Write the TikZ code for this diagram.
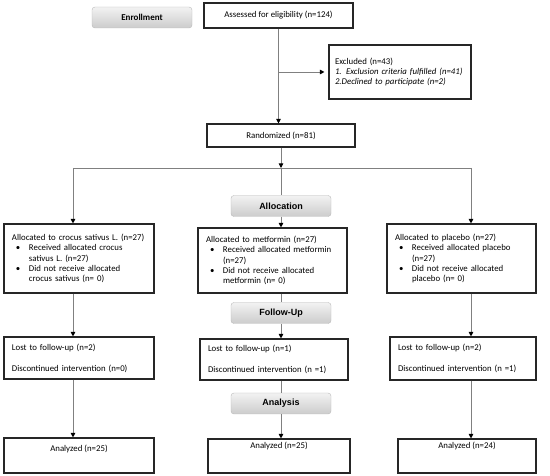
\documentclass[tikz,border=0pt]{standalone}
\usepackage{fontspec}
\setmainfont{Carlito}
\newfontfamily\stagefont{Liberation Sans}
\usetikzlibrary{arrows.meta}

\tikzstyle{stage} = [draw=gray!55, rounded corners=3pt, top color=gray!10,
    bottom color=gray!40, minimum width=100pt, minimum height=21pt,
    inner sep=0pt, font=\stagefont\fontsize{9}{10}\selectfont\bfseries]
\tikzstyle{flowbox} = [draw=black!85, line width=1.1pt, rectangle,
    inner sep=0pt, font=\fontsize{8.8}{10.4}\selectfont]
\tikzstyle{armbox} = [flowbox, minimum width=150pt, text width=134pt,
    inner xsep=8pt, align=left]
\tikzstyle{connector} = [draw=gray, line width=0.9pt]
\tikzstyle{flowarrow} = [connector,
    -{Triangle[length=4.5pt,width=4.5pt,color=black]}]

\newcommand{\armitem}[2]{\par\hangindent=17pt\hangafter=1\noindent
    \makebox[17pt][l]{\hspace{4pt}\textbullet}#1\newline #2\par}

\begin{document}
\begin{tikzpicture}[x=1pt,y=-1pt]
\useasboundingbox (0,0) rectangle (550,476);

% enrollment
\node[stage, font=\fontsize{9}{10}\selectfont\bfseries] (enroll) at (142,17.5) {Enrollment};
\node[flowbox, minimum width=149pt, minimum height=25pt] (assess) at (278.5,15.5)
    {Assessed for eligibility (n=124)};
\node[flowbox, minimum width=142pt, minimum height=54pt, text width=130pt,
    inner xsep=6pt, align=left] (excl) at (400,72)
    {Excluded (n=43)\\
    \textit{1. Exclusion criteria fulfilled (n=41)}\\
    \textit{2.Declined to participate (n=2)}};
\node[flowbox, minimum width=148pt, minimum height=23pt] (rand) at (281,135.5)
    {Randomized (n=81)};

% allocation
\node[stage] (alloc) at (281,206) {Allocation};
\node[armbox, minimum height=69pt] (armA) at (79,258.5)
    {Allocated to crocus sativus L. (n=27)
    \armitem{Received allocated crocus}{sativus L. (n=27)}
    \armitem{Did not receive allocated}{crocus sativus (n= 0)}};
\node[armbox, minimum width=149pt, text width=133pt, minimum height=65pt] (armB) at (272.5,260.5)
    {Allocated to metformin (n=27)
    \armitem{Received allocated metformin}{(n=27)}
    \armitem{Did not receive allocated}{metformin (n= 0)}};
\node[armbox, minimum width=149pt, text width=133pt, minimum height=69pt] (armC) at (461.5,258.5)
    {Allocated to placebo (n=27)
    \armitem{Received allocated placebo}{(n=27)}
    \armitem{Did not receive allocated}{placebo (n= 0)}};

% follow-up
\node[stage] (followup) at (281,313) {Follow-Up};
\node[armbox, minimum height=42pt] (lostA) at (79,358)
    {Lost to follow-up (n=2)\\[10.5pt]Discontinued intervention (n=0)};
\node[armbox, minimum width=148pt, text width=132pt, minimum height=41pt] (lostB) at (274,359.5)
    {Lost to follow-up (n=1)\\[10.5pt]Discontinued intervention (n =1)};
\node[armbox, minimum width=146pt, text width=130pt, minimum height=43pt] (lostC) at (463,358.5)
    {Lost to follow-up (n=2)\\[10.5pt]Discontinued intervention (n =1)};

% analysis
\node[stage] (analysis) at (281,403.5) {Analysis};
\node[flowbox, minimum width=150pt, minimum height=35pt, text height=6pt, text depth=14pt]
    (doneA) at (79,455.5) {Analyzed (n=25)};
\node[flowbox, minimum width=142pt, minimum height=34pt, text height=6pt, text depth=20pt]
    (doneB) at (279,456) {Analyzed (n=25)};
\node[flowbox, minimum width=138pt, minimum height=34pt, text height=6pt, text depth=20pt]
    (doneC) at (467,456) {Analyzed (n=24)};

% connectors
\coordinate (split) at (281,168);
\coordinate (splitA) at (73,168);
\coordinate (splitC) at (471,168);
\coordinate (exclsplit) at (assess.south |- excl.west);
\draw[flowarrow] (assess.south) -- (assess.south |- rand.north);
\draw[flowarrow, shorten >=4pt] (exclsplit) -- (excl.west);
\draw[flowarrow] (rand) -- (split);
\draw[connector] (splitA) -- (splitC);
\draw[connector] (split) -- (alloc);
\draw[flowarrow] (alloc) -- (alloc |- armB.north);
\draw[connector] (alloc |- armB.south) -- (followup);
\draw[flowarrow] (followup) -- (followup |- lostB.north);
\draw[connector] (followup |- lostB.south) -- (analysis);
\draw[flowarrow] (analysis) -- (analysis |- doneB.north);
\draw[flowarrow] (splitA) -- (splitA |- armA.north);
\draw[flowarrow] (splitA |- armA.south) -- (splitA |- lostA.north);
\draw[flowarrow] (splitA |- lostA.south) -- (splitA |- doneA.north);
\draw[flowarrow] (splitC) -- (splitC |- armC.north);
\draw[flowarrow] (splitC |- armC.south) -- (splitC |- lostC.north);
\draw[flowarrow] (splitC |- lostC.south) -- (splitC |- doneC.north);
\end{tikzpicture}
\end{document}
